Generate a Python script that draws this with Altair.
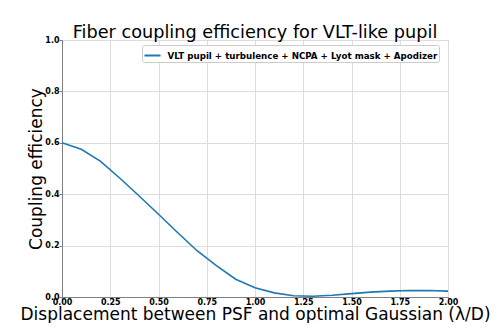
import altair as alt
import pandas as pd

displacement = [0.0, 0.1, 0.2, 0.3, 0.4, 0.5, 0.6, 0.7, 0.8, 0.9, 1.0,
                1.1, 1.2, 1.3, 1.4, 1.5, 1.6, 1.7, 1.8, 1.9, 2.0]
efficiency = [0.600, 0.575, 0.528, 0.462, 0.393, 0.322, 0.250, 0.180, 0.122, 0.069, 0.036,
              0.016, 0.005, 0.003, 0.007, 0.013, 0.019, 0.023, 0.025, 0.025, 0.023]
series_name = "VLT pupil + turbulence + NCPA + Lyot mask + Apodizer"
x_ticks = [0.0, 0.25, 0.5, 0.75, 1.0, 1.25, 1.5, 1.75, 2.0]
y_ticks = [0.0, 0.2, 0.4, 0.6, 0.8, 1.0]

df = pd.DataFrame({"x": displacement, "y": efficiency, "series": [series_name] * len(displacement)})

FONT = "DejaVu Sans"

chart = alt.Chart(df).mark_line(strokeWidth=1.6).encode(
    x=alt.X("x:Q", scale=alt.Scale(domain=[0, 2], nice=False, zero=False),
            axis=alt.Axis(values=x_ticks, format=".2f", labelPadding=-2, labelFlush=False,
                          title="Displacement between PSF and optimal Gaussian (λ/D)",
                          titleFontSize=17, titleY=22, titleBaseline="alphabetic")),
    y=alt.Y("y:Q", scale=alt.Scale(domain=[0, 1], nice=False),
            axis=alt.Axis(values=y_ticks, format=".1f", title="Coupling efficiency",
                          labelPadding=0, labelFlush=False,
                          titleFontSize=17, titleX=-21, titleBaseline="alphabetic",
                          titleAngle=270)),
    color=alt.Color("series:N", scale=alt.Scale(range=["#1f77b4"]),
                    legend=alt.Legend(title=None, orient="none", legendX=80, legendY=5,
                                      symbolType="stroke", symbolSize=256, symbolStrokeWidth=2,
                                      labelFont=FONT, labelFontSize=8.7, labelFontWeight="bold",
                                      labelColor="black", labelLimit=0,
                                      strokeColor="#cccccc", fillColor="white",
                                      padding=1.5, cornerRadius=2, labelOffset=6)),
).properties(
    width=386, height=257,
    title=alt.TitleParams("Fiber coupling efficiency for VLT-like pupil", font=FONT,
                          fontSize=17.7, fontWeight="normal", color="black",
                          baseline="alphabetic", offset=0, dy=20),
    autosize=alt.AutoSizeParams(type="none"),
    padding={"left": 54, "top": 32, "right": 42, "bottom": 26},
).configure_axis(
    labelFont=FONT, labelFontSize=8, labelFontWeight="bold", labelColor="black",
    tickSize=3, tickColor="#808080", domainColor="#808080",
    gridColor="#dddddd", gridWidth=1, titleFont=FONT, titleFontWeight="normal",
    titleColor="black",
).configure_view(stroke="#808080", strokeWidth=1)

chart.save("out.html", embed_options={"renderer": "svg", "actions": False})
